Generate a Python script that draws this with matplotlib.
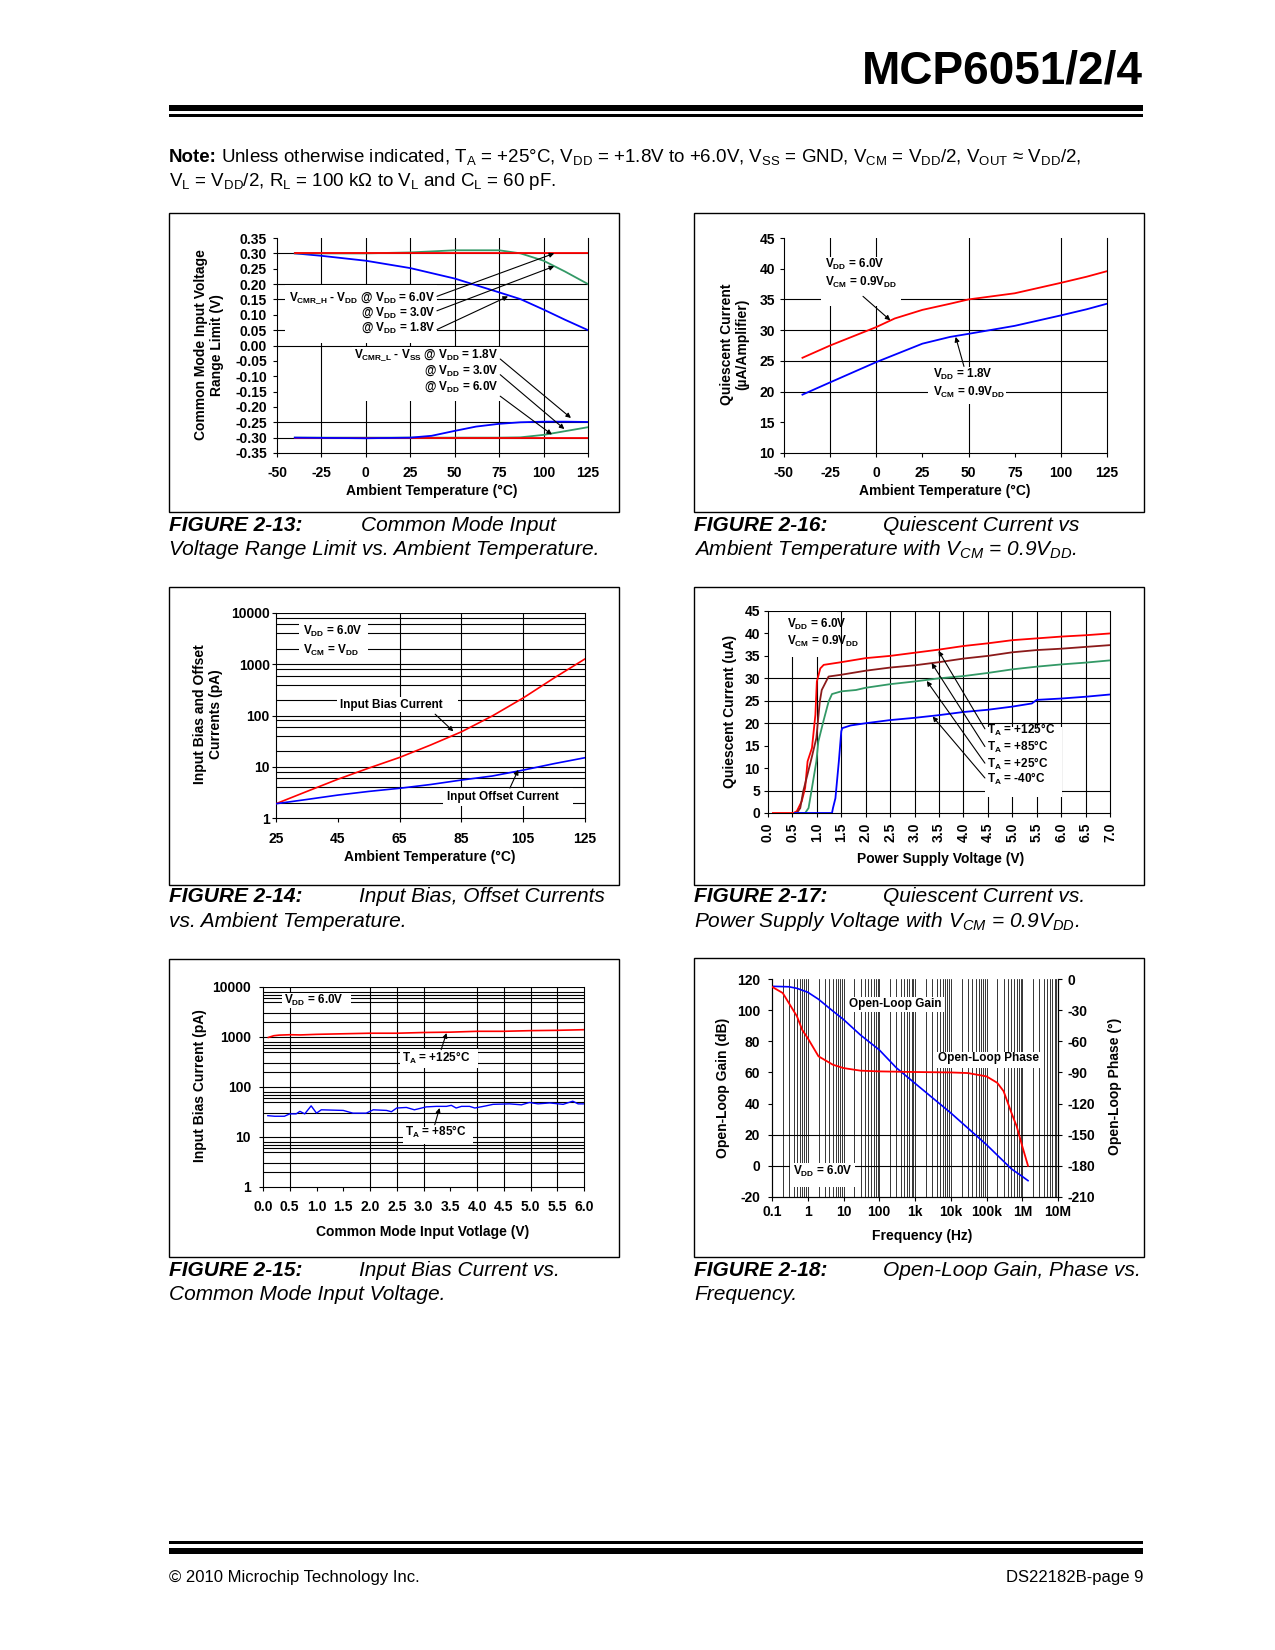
import numpy as np
import matplotlib
matplotlib.use('Agg')
import matplotlib.pyplot as plt
from matplotlib.patches import Rectangle
from matplotlib.ticker import NullLocator
from matplotlib import font_manager

plt.rcParams['font.family'] = ['Liberation Sans', 'DejaVu Sans']
plt.rcParams['font.weight'] = 'bold'
plt.rcParams['mathtext.default'] = 'regular'

# ---- Figure 2-13: common mode range limit vs temperature
t13 = [-40, -25, 0, 25, 50, 75, 87, 100, 112, 125]
vcmrh_6v0 = [0.30, 0.30, 0.30, 0.30, 0.30, 0.30, 0.30, 0.30, 0.30, 0.30]
vcmrh_3v0 = [0.30, 0.30, 0.30, 0.303, 0.31, 0.31, 0.30, 0.276, 0.241, 0.20]
vcmrh_1v8 = [0.30, 0.292, 0.276, 0.252, 0.218, 0.173, 0.151, 0.117, 0.084, 0.05]
t13l = [-40, 0, 25, 37, 50, 62, 75, 87, 100, 112, 125]
vcmrl_1v8 = [-0.300, -0.302, -0.300, -0.294, -0.278, -0.264, -0.255, -0.250, -0.248, -0.248, -0.249]
vcmrl_3v0 = [-0.300, -0.300, -0.300, -0.300, -0.300, -0.300, -0.300, -0.299, -0.291, -0.279, -0.266]
vcmrl_6v0 = [-0.300, -0.300, -0.300, -0.300, -0.300, -0.300, -0.300, -0.300, -0.300, -0.300, -0.300]

# ---- Figure 2-16: quiescent current vs temperature
t16 = [-40, -25, 0, 10, 25, 40, 50, 75, 100, 114, 125]
iq16_6v0 = [25.5, 27.5, 30.5, 31.9, 33.3, 34.3, 35.0, 36.0, 37.7, 38.7, 39.6]
iq16_1v8 = [19.5, 21.5, 24.8, 26.0, 27.8, 28.9, 29.4, 30.7, 32.4, 33.4, 34.3]

# ---- Figure 2-14: input bias / offset current vs temperature
t14 = [25, 35, 45, 55, 65, 75, 85, 95, 105, 115, 125]
ibias14 = [1.9, 3.3, 5.7, 9.4, 15.2, 26.5, 48, 98, 220, 540, 1270]
ioffs14 = [1.9, 2.3, 2.8, 3.3, 3.8, 4.5, 5.5, 6.6, 8.6, 11.5, 15.0]

# ---- Figure 2-17: quiescent current vs supply voltage
vdd125 = [0.1, 0.52, 0.59, 0.69, 0.76, 0.81, 0.90, 0.97, 1.0, 1.07, 1.14, 1.5, 2.0, 2.5, 3.0, 3.5, 4.0, 4.5, 5.0, 5.5, 6.0, 6.5, 7.0]
iq125 = [0, 0, 0.4, 2.6, 5.6, 11.5, 14.5, 21.9, 29.3, 32.2, 33.0, 33.6, 34.5, 35.0, 35.7, 36.4, 37.2, 37.8, 38.5, 38.9, 39.3, 39.6, 40.0]
vdd85 = [0.55, 0.59, 0.66, 0.72, 0.79, 0.90, 0.99, 1.06, 1.10, 1.24, 1.5, 2.0, 2.5, 3.0, 3.5, 4.0, 4.5, 5.0, 5.5, 6.0, 6.5, 7.0]
iq85 = [0, 0, 1.1, 4.8, 7.8, 12.6, 16.7, 24.8, 27.4, 30.4, 30.8, 31.7, 32.4, 32.9, 33.6, 34.4, 35.0, 35.8, 36.3, 36.6, 37.0, 37.4]
vdd25 = [0.55, 0.76, 0.83, 0.90, 0.99, 1.03, 1.14, 1.24, 1.31, 1.5, 1.8, 2.0, 2.5, 3.0, 3.5, 4.0, 4.5, 5.0, 5.5, 6.0, 6.5, 7.0]
iq25 = [0, 0, 1.1, 5.6, 11.5, 15.9, 20.7, 24.8, 26.5, 27.1, 27.4, 27.9, 28.7, 29.3, 30.0, 30.5, 31.2, 32.0, 32.6, 33.1, 33.5, 34.0]
vddm40 = [0.55, 1.31, 1.33, 1.38, 1.45, 1.50, 1.52, 1.69, 2.0, 2.5, 3.0, 3.5, 4.0, 4.5, 5.0, 5.4, 5.5, 6.0, 6.5, 7.0]
iqm40 = [0, 0, 1.1, 3.3, 11.5, 18.2, 18.9, 19.5, 20.0, 20.7, 21.2, 21.8, 22.5, 23.0, 23.7, 24.4, 25.2, 25.5, 25.9, 26.4]

# ---- Figure 2-15: input bias current vs common mode voltage
vcm125 = [0.1, 0.2, 0.3, 0.5, 0.7, 1.0, 1.5, 2.0, 2.5, 3.0, 3.5, 4.0, 4.5, 5.0, 5.5, 6.0]
ib125 = [980, 1060, 1090, 1110, 1100, 1130, 1160, 1190, 1190, 1230, 1250, 1300, 1300, 1340, 1360, 1400]
vcm85 = [0.09, 0.22, 0.40, 0.50, 0.62, 0.69, 0.78, 0.90, 1.00, 1.09, 1.50, 1.68, 1.93, 2.06, 2.31, 2.40, 2.50, 2.68, 2.83,
         3.05, 3.24, 3.43, 3.52, 3.61, 3.71, 3.86, 3.96, 4.17, 4.30, 4.61, 4.83, 4.98, 5.14, 5.36, 5.61, 5.79, 5.89, 6.00]
ib85 = [26.7, 26, 26, 29, 29, 32.6, 29, 42, 30, 35, 34, 30, 30, 35, 34, 32, 38, 39, 35,
        40, 41, 41, 43, 38, 41, 41, 38, 42, 45, 46, 44, 49, 46, 48, 45, 52, 46, 46]

# ---- Figure 2-18: open loop gain / phase vs frequency
f_gain = [0.1, 0.3, 0.5, 1, 2, 5, 10, 30, 100, 300, 1e3, 1e4, 1e5, 5e5, 1e6, 1.45e6]
gain18 = [115.3, 115, 114, 111.5, 107, 99.5, 94, 84, 74.5, 63, 53, 34, 13.6, -2, -6.8, -9.5]
f_phase = [0.1, 0.2, 0.5, 0.7, 1, 2, 3, 5, 10, 30, 100, 1e3, 1e4, 3e4, 1e5, 2e5, 3e5, 5e5, 7e5, 1e6, 1.45e6]
phase18 = [-7.5, -13.5, -36, -49, -57, -74.5, -78, -82.5, -85.8, -88.3, -89, -89.6, -90, -90.6, -93.8, -100, -108, -129, -142, -161, -180]
f_labels = ['0.1', '1', '10', '100', '1k', '10k', '100k', '1M', '10M']

RED, BLUE, GREEN, MAROON = '#ff0000', '#0000ff', '#339966', '#8b1a1a'
W, H = 1275, 1650
fig = plt.figure(figsize=(W / 100, H / 100), dpi=100)


def add_ax(l, t, r, b):
    return fig.add_axes([l / W, 1 - b / H, (r - l) / W, (b - t) / H])


def px_rect(l, t, r, b, **kw):
    return Rectangle((l / W, 1 - b / H), (r - l) / W, (b - t) / H, transform=fig.transFigure, **kw)


def ftext(x, y, s, **kw):
    return fig.text(x / W, 1 - y / H, s, **kw)


def blank(ax, l, t, r, b):
    ax.add_patch(px_rect(l, t, r, b, fc='white', ec='none', zorder=1.5))


def style(ax, xlim, ylim, xt, xl, yt, yl, xpad=6.3, ypad=4.2):
    ax.set_xlim(xlim)
    ax.set_ylim(ylim)
    ax.set_xticks(xt)
    ax.set_xticklabels(xl)
    ax.set_yticks(yt)
    ax.set_yticklabels(yl)
    ax.xaxis.set_minor_locator(NullLocator())
    ax.yaxis.set_minor_locator(NullLocator())
    ax.spines['top'].set_visible(False)
    for s in ax.spines.values():
        s.set_linewidth(0.8)
    ax.tick_params(direction='out', length=3, width=0.8, labelsize=10)
    ax.tick_params(axis='x', pad=xpad)
    ax.tick_params(axis='y', pad=ypad)


def grid(ax, xs=(), ys=(), lw=0.8):
    for x in xs:
        ax.axvline(x, color='black', lw=lw, zorder=1)
    for y in ys:
        ax.axhline(y, color='black', lw=lw, zorder=1)


def arrow(ax, tail, head):
    ax.annotate('', xy=head, xytext=tail, zorder=4,
                arrowprops=dict(arrowstyle='-|>', color='black', lw=0.8, mutation_scale=7, shrinkA=0, shrinkB=0))


def caption(x0, x1, y1, y2, num, d1, d2):
    ftext(x0, y1, 'FIGURE %s:' % num, fontsize=15, fontweight='bold', style='italic', va='baseline')
    ftext(x1, y1, d1, fontsize=15, fontweight='normal', style='italic', va='baseline')
    ftext(x0, y2, d2, fontsize=15, fontweight='normal', style='italic', va='baseline')


# ---- page header / footer
try:
    font_manager.findfont('Liberation Sans Narrow', fallback_to_default=False)
    tfont, tsize, tbase = 'Liberation Sans Narrow', 38, 87
except ValueError:
    tfont, tsize, tbase = 'Liberation Sans', 33, 84
ftext(1143, tbase, 'MCP6051/2/4', ha='right', va='baseline', fontsize=tsize, family=tfont, fontweight='bold')
fig.add_artist(px_rect(169, 105, 1143, 111, fc='black', ec='none'))
fig.add_artist(px_rect(169, 114, 1143, 116.5, fc='black', ec='none'))
fig.add_artist(px_rect(169, 1541, 1143, 1543.5, fc='black', ec='none'))
fig.add_artist(px_rect(169, 1548, 1143, 1554, fc='black', ec='none'))
ftext(169, 1582, '© 2010 Microchip Technology Inc.', fontsize=12, fontweight='normal', va='baseline')
ftext(1143, 1582, 'DS22182B-page 9', fontsize=12, fontweight='normal', va='baseline', ha='right')

note = ftext(169, 162, 'Note:', fontsize=13.5, fontweight='bold', va='baseline')
fig.canvas.draw()
nx = 169 + note.get_window_extent().width + 4
ftext(nx, 162, r'Unless otherwise indicated, T$_A$ = +25°C, V$_{DD}$ = +1.8V to +6.0V, V$_{SS}$ = GND, '
      r'V$_{CM}$ = V$_{DD}$/2, V$_{OUT}$ ≈ V$_{DD}$/2,', fontsize=13.5, fontweight='normal', va='baseline')
ftext(169, 186, r'V$_L$ = V$_{DD}$/2, R$_L$ = 100 kΩ to V$_L$ and C$_L$ = 60 pF.',
      fontsize=13.5, fontweight='normal', va='baseline')

# chart frames
for l, t, r, b in [(169, 213, 619, 512), (694, 213, 1144, 512), (169, 587, 619, 885),
                   (694, 587, 1144, 885), (169, 959, 619, 1257), (694, 958, 1144, 1257)]:
    fig.add_artist(px_rect(l, t, r, b, fill=False, ec='black', lw=1.0))

# ================= FIGURE 2-13
ax = add_ax(277, 238, 588, 453)
yt = np.round(np.arange(-0.35, 0.351, 0.05), 2)
style(ax, (-50, 125), (-0.35, 0.35), range(-50, 126, 25), [str(v) for v in range(-50, 126, 25)],
      yt, ['%.2f' % abs(v) if v == 0 else '%.2f' % v for v in yt])
grid(ax, xs=[-25, 0, 25, 50, 75, 100], ys=[0.30, 0.20, 0.15, 0.05, 0.0, -0.25, -0.30])
blank(ax, 285, 285, 437, 343)
blank(ax, 352, 347, 501, 401)
ax.plot(t13, vcmrh_1v8, color=BLUE, lw=1.3, zorder=3)
ax.plot(t13, vcmrh_3v0, color=GREEN, lw=1.3, zorder=3)
ax.plot(t13, vcmrh_6v0, color=RED, lw=1.3, zorder=3)
ax.plot(t13l, vcmrl_3v0, color=GREEN, lw=1.3, zorder=3)
ax.plot(t13l, vcmrl_6v0, color=RED, lw=1.3, zorder=3)
ax.plot(t13l, vcmrl_1v8, color=BLUE, lw=1.3, zorder=3)
kw = dict(fontsize=8.5, ha='right', va='center', zorder=3)
ax.text(39, 0.157, r'V$_{CMR\_H}$ - V$_{DD}$ @ V$_{DD}$ = 6.0V', **kw)
ax.text(39, 0.108, r'@ V$_{DD}$ = 3.0V', **kw)
ax.text(39, 0.057, r'@ V$_{DD}$ = 1.8V', **kw)
ax.text(74.5, -0.030, r'V$_{CMR\_L}$ - V$_{SS}$ @ V$_{DD}$ = 1.8V', **kw)
ax.text(74.5, -0.082, r'@ V$_{DD}$ = 3.0V', **kw)
ax.text(74.5, -0.133, r'@ V$_{DD}$ = 6.0V', **kw)
arrow(ax, (40, 0.160), (106, 0.300))
arrow(ax, (40, 0.113), (106, 0.258))
arrow(ax, (40, 0.052), (80, 0.160))
arrow(ax, (75.6, -0.044), (115.4, -0.236))
arrow(ax, (75.6, -0.095), (111.7, -0.272))
arrow(ax, (75.6, -0.165), (104.7, -0.290))
ftext(209, 345, 'Common Mode Input Voltage\nRange Limit (V)', rotation=90, ha='center', va='center',
      fontsize=10, multialignment='center', linespacing=1.1)
ftext(432, 491, 'Ambient Temperature (°C)', ha='center', va='center', fontsize=10)
caption(169, 361, 531, 555, '2-13', 'Common Mode Input', 'Voltage Range Limit vs. Ambient Temperature.')

# ================= FIGURE 2-16
ax = add_ax(784, 238, 1107, 453)
style(ax, (-50, 125), (10, 45), range(-50, 126, 25), [str(v) for v in range(-50, 126, 25)],
      range(10, 46, 5), [str(v) for v in range(10, 46, 5)], ypad=3.5)
grid(ax, xs=[-25, 0, 50, 100], ys=[20, 25, 30, 35])
blank(ax, 821, 257, 901, 306)
blank(ax, 928, 367, 1006, 404)
ax.plot(t16, iq16_6v0, color=RED, lw=1.3, zorder=3)
ax.plot(t16, iq16_1v8, color=BLUE, lw=1.3, zorder=3)
kw = dict(fontsize=8.5, ha='left', va='center', zorder=3)
ax.text(-27.8, 40.7, r'V$_{DD}$ = 6.0V', **kw)
ax.text(-27.8, 37.7, r'V$_{CM}$ = 0.9V$_{DD}$', **kw)
ax.text(30.7, 22.8, r'V$_{DD}$ = 1.8V', **kw)
ax.text(30.7, 19.8, r'V$_{CM}$ = 0.9V$_{DD}$', **kw)
arrow(ax, (-7.2, 35.5), (7.6, 31.6))
arrow(ax, (47.5, 24.1), (43, 28.9))
ftext(735, 344, 'Quiescent Current\n(µA/Amplifier)', rotation=90, ha='center', va='center',
      fontsize=10, multialignment='center', linespacing=1.1)
ftext(945, 491, 'Ambient Temperature (°C)', ha='center', va='center', fontsize=10)
caption(694, 883, 531, 555, '2-16', 'Quiescent Current vs',
        r'Ambient Temperature with V$_{CM}$ = 0.9V$_{DD}$.')

# log grid positions
minor_even = [m * d for d in (1, 10, 100, 1000) for m in (2, 4, 6, 8)]
minor_15 = [m * d for d in (1, 10, 100, 1000) for m in (2, 3, 5, 6, 7, 8)]
decades = [1, 10, 100, 1000, 10000]

# ================= FIGURE 2-14
ax = add_ax(276, 613, 585, 818)
ax.set_yscale('log')
style(ax, (25, 125), (1, 10000), range(25, 126, 20), [str(v) for v in range(25, 126, 20)],
      decades, [str(v) for v in decades], xpad=7, ypad=1.5)
grid(ax, xs=[65, 85, 105], ys=[10, 100, 1000, 10000] + minor_even)
blank(ax, 299, 620, 368, 658)
blank(ax, 337, 697, 458, 712)
blank(ax, 443, 788, 573, 806)
ax.plot(t14, ibias14, color=RED, lw=1.2, zorder=3)
ax.plot(t14, ioffs14, color=BLUE, lw=1.2, zorder=3)
ax.text(33.6, 4350, r'V$_{DD}$ = 6.0V', fontsize=8.5, ha='left', va='center', zorder=3)
ax.text(33.6, 1900, r'V$_{CM}$ = V$_{DD}$', fontsize=8.5, ha='left', va='center', zorder=3)
ax.text(62.4, 157, 'Input Bias Current', fontsize=8.5, ha='center', va='center', zorder=3)
ax.text(98.5, 2.57, 'Input Offset Current', fontsize=8.5, ha='center', va='center', zorder=3)
arrow(ax, (76.5, 106), (82.4, 49))
arrow(ax, (100.7, 3.84), (103.4, 8.7))
ftext(208, 714, 'Input Bias and Offset\nCurrents (pA)', rotation=90, ha='center', va='center',
      fontsize=10, multialignment='center', linespacing=1.1)
ftext(430, 857, 'Ambient Temperature (°C)', ha='center', va='center', fontsize=10)
caption(169, 359, 902, 927, '2-14', 'Input Bias, Offset Currents', 'vs. Ambient Temperature.')

# ================= FIGURE 2-17
ax = add_ax(768, 611, 1110, 813)
xt = np.round(np.arange(0, 7.01, 0.5), 1)
style(ax, (0, 7), (0, 45), xt, ['%.1f' % v for v in xt], range(0, 46, 5),
      [str(v) for v in range(0, 46, 5)], xpad=4.2, ypad=2.7)
plt.setp(ax.get_xticklabels(), rotation=90)
grid(ax, xs=list(xt[1:-1]), ys=[5, 20, 25, 30, 45])
blank(ax, 780, 612, 837, 657)
blank(ax, 985, 727, 1062, 797)
ax.plot(vdd125, iq125, color=RED, lw=1.3, zorder=3)
ax.plot(vdd85, iq85, color=MAROON, lw=1.3, zorder=3)
ax.plot(vdd25, iq25, color=GREEN, lw=1.3, zorder=3)
ax.plot(vddm40, iqm40, color=BLUE, lw=1.3, zorder=3)
kw = dict(fontsize=8.5, ha='left', va='center', zorder=3)
ax.text(0.38, 41.9, r'V$_{DD}$ = 6.0V', **kw)
ax.text(0.38, 38.2, r'V$_{CM}$ = 0.9V$_{DD}$', **kw)
ax.text(4.48, 18.4, r'T$_A$ = +125°C', **kw)
ax.text(4.48, 14.7, r'T$_A$ = +85°C', **kw)
ax.text(4.48, 11.0, r'T$_A$ = +25°C', **kw)
ax.text(4.48, 7.6, r'T$_A$ = -40°C', **kw)
arrow(ax, (4.44, 18.75), (3.49, 36.1))
arrow(ax, (4.44, 14.8), (3.35, 33.4))
arrow(ax, (4.44, 11.1), (3.25, 29.4))
arrow(ax, (4.44, 7.8), (3.37, 21.5))
ftext(730, 711, 'Quiescent Current (uA)', rotation=90, ha='center', va='center', fontsize=10)
ftext(941, 859, 'Power Supply Voltage (V)', ha='center', va='center', fontsize=10)
caption(694, 883, 902, 927, '2-17', 'Quiescent Current vs.',
        r'Power Supply Voltage with V$_{CM}$ = 0.9V$_{DD}$.')

# ================= FIGURE 2-15
ax = add_ax(263, 987, 584, 1187)
ax.set_yscale('log')
xt = np.round(np.arange(0, 6.01, 0.5), 1)
style(ax, (0, 6), (1, 10000), xt, ['%.1f' % v for v in xt], decades, [str(v) for v in decades], ypad=5.6)
grid(ax, xs=[0.5, 2.0, 2.5, 3.0, 4.0, 4.5, 5.0, 5.5], ys=[10, 100, 1000, 10000] + minor_15)
blank(ax, 282, 993, 351, 1008)
blank(ax, 400, 1049, 478, 1068)
blank(ax, 403, 1127, 473, 1144)
ax.plot(vcm125, ib125, color=RED, lw=1.2, zorder=3)
ax.plot(vcm85, ib85, color=BLUE, lw=1.0, zorder=3)
ax.text(0.39, 5330, r'V$_{DD}$ = 6.0V', fontsize=8.5, ha='left', va='center', zorder=3)
ax.text(3.24, 380, r'T$_A$ = +125°C', fontsize=8.5, ha='center', va='center', zorder=3)
ax.text(3.23, 12.4, r'T$_A$ = +85°C', fontsize=8.5, ha='center', va='center', zorder=3)
arrow(ax, (3.33, 558), (3.43, 1200))
arrow(ax, (3.21, 17.6), (3.30, 38))
ftext(200, 1086, 'Input Bias Current (pA)', rotation=90, ha='center', va='center', fontsize=10)
ftext(423, 1232, 'Common Mode Input Votlage (V)', ha='center', va='center', fontsize=10)
caption(169, 359, 1276, 1300, '2-15', 'Input Bias Current vs.', 'Common Mode Input Voltage.')

# ================= FIGURE 2-18
ax = add_ax(772, 979, 1058, 1197)
ax.set_xscale('log')
fdec = [10.0 ** k for k in range(-1, 8)]
style(ax, (0.1, 1e7), (-20, 120), fdec, f_labels, range(-20, 121, 20),
      [str(v) for v in range(-20, 121, 20)], xpad=2.7, ypad=5.6)
fminor = [m * d for d in fdec[:-1] for m in range(2, 10)]
grid(ax, xs=fdec[1:-1] + fminor, lw=0.55)
grid(ax, ys=[0, 20])
blank(ax, 845, 997, 945, 1012)
blank(ax, 933, 1052, 1043, 1068)
blank(ax, 790, 1163, 855, 1187)
ax.plot(f_gain, gain18, color=BLUE, lw=1.2, zorder=3)
ax.text(275, 104, 'Open-Loop Gain', fontsize=8.5, ha='center', va='center', zorder=3)
ax.text(1.15e5, 69.2, 'Open-Loop Phase', fontsize=8.5, ha='center', va='center', zorder=3)
ax.text(2.66, -3.5, r'V$_{DD}$ = 6.0V', fontsize=8.5, ha='center', va='center', zorder=3)
ax2 = ax.twinx()
ax2.set_ylim(-210, 0)
ax2.set_yticks(range(-210, 1, 30))
ax2.set_yticklabels([str(v) for v in range(-210, 1, 30)])
ax2.spines['top'].set_visible(False)
for s in ax2.spines.values():
    s.set_linewidth(0.8)
ax2.tick_params(direction='out', length=3, width=0.8, labelsize=10, pad=4.2)
ax2.plot(f_phase, phase18, color=RED, lw=1.3, zorder=3)
ftext(723, 1088, 'Open-Loop Gain (dB)', rotation=90, ha='center', va='center', fontsize=10)
ftext(1115, 1086, 'Open-Loop Phase (°)', rotation=90, ha='center', va='center', fontsize=10)
ftext(922, 1236, 'Frequency (Hz)', ha='center', va='center', fontsize=10)
caption(694, 883, 1276, 1300, '2-18', 'Open-Loop Gain, Phase vs.', 'Frequency.')

fig.savefig('out.png', dpi=100)
